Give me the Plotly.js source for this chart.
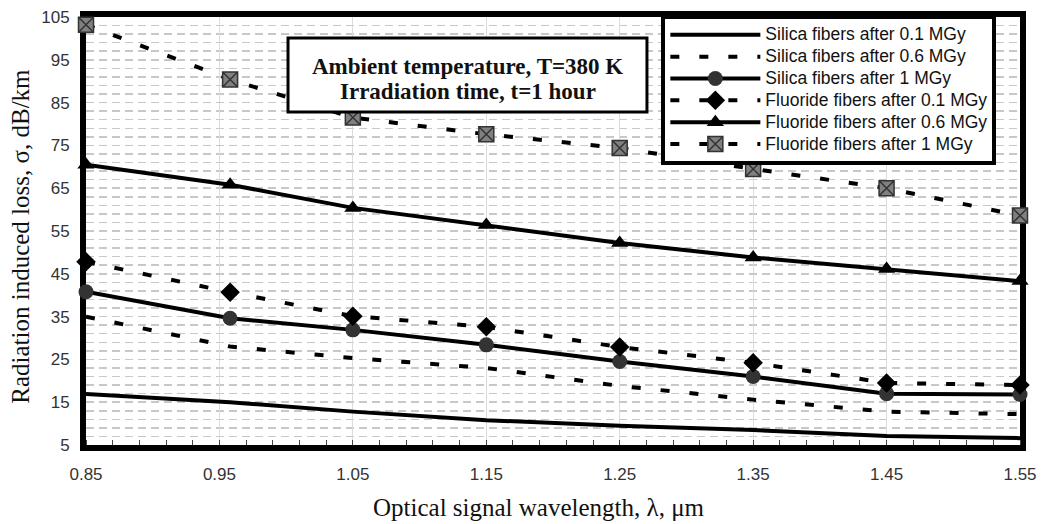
<!DOCTYPE html>
<html>
<head>
<meta charset="utf-8">
<script src="https://cdn.plot.ly/plotly-3.0.1.min.js"></script>
<style>
html,body{margin:0;padding:0;background:#fff;}
#chart{width:1043px;height:524px;}
.legendtext{font-size:17.5px !important;}
</style>
</head>
<body>
<div id="chart"></div>
<script>
// Wavelength (µm)
var wavelength = [0.85, 0.958, 1.05, 1.15, 1.25, 1.35, 1.45, 1.55];
// Radiation induced loss (dB/km)
var silica01 = [16.9, 15.0, 12.8, 10.8, 9.5, 8.5, 7.1, 6.6];
var silica06 = [35.0, 28.0, 25.3, 23.0, 18.8, 15.6, 12.8, 12.2];
var silica1  = [40.8, 34.6, 31.9, 28.4, 24.5, 21.0, 17.0, 16.8];
var fluor01  = [47.8, 40.7, 35.1, 32.6, 27.9, 24.2, 19.5, 19.0];
var fluor06  = [70.5, 65.8, 60.4, 56.4, 52.2, 48.8, 46.1, 43.3];
var fluor1   = [103.2, 90.4, 81.5, 77.6, 74.4, 69.5, 65.0, 58.6];
var seriesNames = [
  "Silica fibers after 0.1 MGy",
  "Silica fibers after 0.6 MGy",
  "Silica fibers after 1 MGy",
  "Fluoride fibers after 0.1 MGy",
  "Fluoride fibers after 0.6 MGy",
  "Fluoride fibers after 1 MGy"
];
var xTicks = [0.85, 0.95, 1.05, 1.15, 1.25, 1.35, 1.45, 1.55];
var xTickText = ["0.85", "0.95", "1.05", "1.15", "1.25", "1.35", "1.45", "1.55"];
var yTicks = [5, 15, 25, 35, 45, 55, 65, 75, 85, 95, 105];
var xTitle = "Optical signal wavelength, λ, μm";
var yTitle = "Radiation induced loss, σ, dB/km";
var boxLines = ["Ambient temperature, T=380 K", "Irradiation time, t=1 hour"];

var DASH = "9px,20px";
var SERIF = "Liberation Serif, Times New Roman, serif";
function tr(y, name, dash, marker) {
  var t = {
    x: wavelength, y: y, name: name, type: "scatter",
    mode: marker ? "lines+markers" : "lines",
    line: {color: "#000", width: 4, dash: dash},
    cliponaxis: false
  };
  if (marker) t.marker = marker;
  return t;
}
var data = [
  tr(silica01, seriesNames[0], "solid", null),
  tr(silica06, seriesNames[1], DASH, null),
  tr(silica1, seriesNames[2], "solid", {symbol: "circle", size: 15, color: "#333"}),
  tr(fluor01, seriesNames[3], DASH, {symbol: "diamond", size: 15, color: "#000"}),
  tr(fluor06, seriesNames[4], "solid", {symbol: "triangle-up", size: 15, color: "#000"}),
  tr(fluor1, seriesNames[5], DASH, {symbol: "square-x", size: 15, color: "#808080", line: {color: "#333", width: 1.5}})
];

var layout = {
  width: 1043, height: 524,
  margin: {l: 86, r: 23, t: 17, b: 79},
  paper_bgcolor: "#fff", plot_bgcolor: "#fff",
  showlegend: true,
  font: {family: "Liberation Sans, Arial, sans-serif", color: "#222"},
  xaxis: {
    range: [0.85, 1.55],
    tickmode: "array", tickvals: xTicks, ticktext: xTickText,
    tickfont: {size: 17, color: "#333"},
    showline: true, linecolor: "#000", linewidth: 6, mirror: true,
    showgrid: true, gridcolor: "#dcdcdc", gridwidth: 1,
    zeroline: false, ticks: "", layer: "below traces",
    minor: {dtick: 0.02, tick0: 0.85, ticks: "inside", ticklen: 5, tickcolor: "#444", tickwidth: 1, showgrid: false},
    ticklabelstandoff: 9
  },
  yaxis: {
    range: [5, 105],
    tickmode: "array", tickvals: yTicks,
    tickfont: {size: 17, color: "#333"},
    showline: true, linecolor: "#000", linewidth: 6, mirror: true,
    showgrid: true, gridcolor: "#c8c8c8", gridwidth: 1.5, griddash: "8px,5px",
    zeroline: false, ticks: "", layer: "below traces",
    minor: {dtick: 2, tick0: 5, showgrid: true, gridcolor: "#c8c8c8", gridwidth: 1.5, griddash: "8px,5px"},
    ticklabelstandoff: 7
  },
  legend: {
    x: 0.616, xanchor: "left", y: 1.005, yanchor: "top",
    bgcolor: "#fff", bordercolor: "#000", borderwidth: 4,
    font: {size: 14.5, color: "#111"},
    itemwidth: 90, tracegroupgap: 0,
    traceorder: "normal"
  },
  shapes: [{
    type: "rect", xref: "paper", yref: "paper",
    x0: 0.2163, x1: 0.6006, y0: 0.778, y1: 0.951,
    fillcolor: "#fff", line: {color: "#000", width: 3}, layer: "above"
  }],
  annotations: [
    {xref: "paper", yref: "paper", x: 0.4085, y: 0.8855, xanchor: "center", yanchor: "middle",
     text: "<b>" + boxLines[0] + "</b>", showarrow: false,
     font: {family: SERIF, size: 23, color: "#111"}},
    {xref: "paper", yref: "paper", x: 0.4085, y: 0.8248, xanchor: "center", yanchor: "middle",
     text: "<b>" + boxLines[1] + "</b>", showarrow: false,
     font: {family: SERIF, size: 23, color: "#111"}},
    {xref: "paper", yref: "paper", x: 0.485, y: -0.145, xanchor: "center", yanchor: "middle",
     text: xTitle, showarrow: false, font: {family: SERIF, size: 25, color: "#111"}},
    {xref: "paper", yref: "paper", x: -0.07, y: 0.488, xanchor: "center", yanchor: "middle",
     text: yTitle, textangle: -90, showarrow: false, font: {family: SERIF, size: 25, color: "#111"}}
  ]
};

Plotly.newPlot("chart", data, layout, {displayModeBar: false, staticPlot: true});
</script>
</body>
</html>
